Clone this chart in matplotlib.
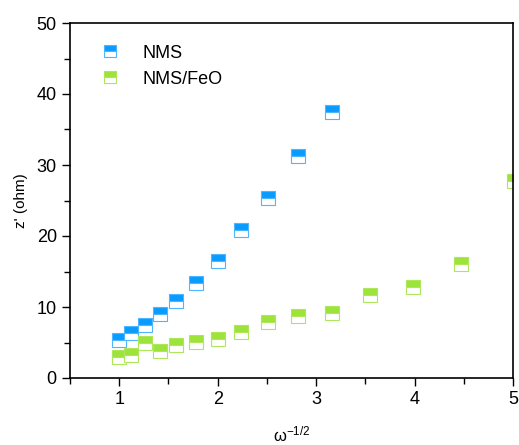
import numpy as np
import matplotlib
matplotlib.use("Agg")
from matplotlib import pyplot
from matplotlib.ticker import MultipleLocator

pyplot.rcParams["font.family"] = ["Liberation Sans", "DejaVu Sans"]
pyplot.rcParams["mathtext.default"] = "regular"

# omega^-1/2 for each frequency step
x_nms = [1.00, 1.12, 1.26, 1.41, 1.58, 1.78, 2.00, 2.24, 2.51, 2.82, 3.16]
z_nms = [5.3, 6.4, 7.5, 9.0, 10.9, 13.4, 16.5, 20.8, 25.3, 31.3, 37.5]

x_feo = [1.00, 1.12, 1.26, 1.41, 1.58, 1.78, 2.00, 2.24, 2.51, 2.82, 3.16,
         3.55, 3.98, 4.47, 5.01]
z_feo = [2.9, 3.3, 5.0, 3.8, 4.6, 5.1, 5.5, 6.5, 7.9, 8.8, 9.2,
         11.7, 12.8, 16.0, 27.7]

blue = "#0A9BFF"
blue_edge = "#4DB6FF"
green = "#9DE33A"
green_edge = "#ADE85C"

fig = pyplot.figure(figsize=(5.19, 4.45), dpi=100)
ax = fig.add_axes([70 / 519, 1 - 378 / 445, 443 / 519, 355 / 445])

ax.plot(x_nms, z_nms, ls="", marker="s", ms=10.5, fillstyle="top",
        mfc=blue, mfcalt="white", mec=blue_edge, mew=0.8, label="NMS")
ax.plot(x_feo, z_feo, ls="", marker="s", ms=10.5, fillstyle="top",
        mfc=green, mfcalt="white", mec=green_edge, mew=0.8, label="NMS/FeO")

ax.set_xlim(0.5, 5)
ax.set_ylim(0, 50)
ax.xaxis.set_major_locator(MultipleLocator(1))
ax.xaxis.set_minor_locator(MultipleLocator(0.5))
ax.yaxis.set_major_locator(MultipleLocator(10))
ax.yaxis.set_minor_locator(MultipleLocator(5))
ax.tick_params(which="both", direction="out", top=False, right=False,
               labelsize=13, width=1.0)
ax.tick_params(which="major", length=6)
ax.tick_params(which="minor", length=4)
for s in ax.spines.values():
    s.set_linewidth(1.2)

ax.set_xlabel(r"ω$^{-1/2}$", fontsize=12, labelpad=12)
ax.set_ylabel("z' (ohm)", fontsize=11, labelpad=6)

leg = ax.legend(loc="upper left", frameon=False, fontsize=13, markerscale=0.85,
                handlelength=1.0, handletextpad=1.3, borderaxespad=0.8,
                bbox_to_anchor=(0.02, 1.0))

fig.savefig("out.png", dpi=100)
